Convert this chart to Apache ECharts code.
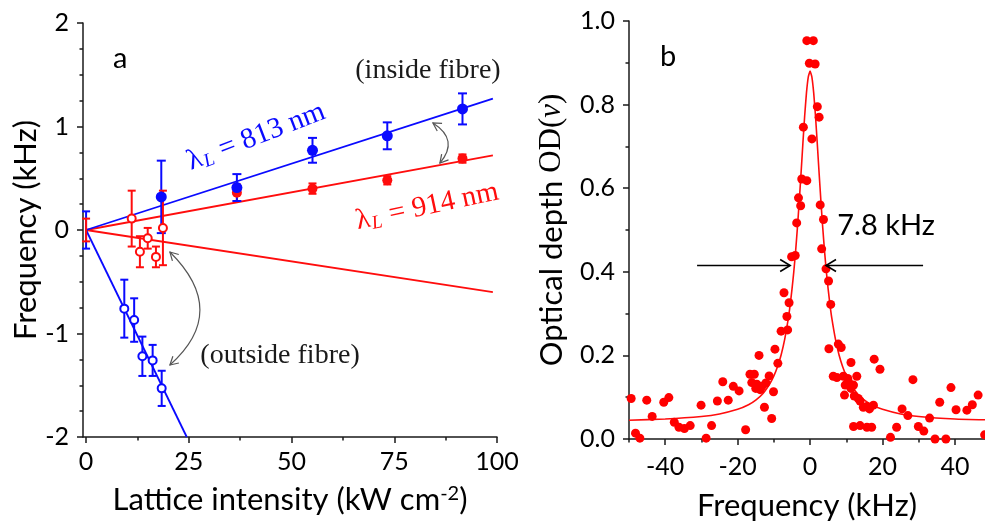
<!DOCTYPE html>
<html>
<head>
<meta charset="utf-8">
<script src="https://cdn.jsdelivr.net/npm/echarts@6/dist/echarts.min.js"></script>
<style>
html,body{margin:0;padding:0;background:#fff;}
#c{width:985px;height:526px;}
</style>
</head>
<body>
<div id="c"></div>
<script>
// ---------- Panel a data ----------
const in813X = [18.3, 36.7, 55.1, 73.3, 91.6];
const in813Y = [0.32, 0.41, 0.77, 0.91, 1.17];
const in813Err = [0.35, 0.13, 0.12, 0.13, 0.15];

const in914X = [36.7, 55.1, 73.3, 91.6];
const in914Y = [0.36, 0.40, 0.48, 0.69];
const in914Err = [0.08, 0.05, 0.04, 0.04];

const out813X = [9.3, 11.7, 13.7, 16.2, 18.4];
const out813Y = [-0.76, -0.87, -1.22, -1.26, -1.53];
const out813Err = [0.28, 0.21, 0.19, 0.15, 0.17];

const out914X = [11.1, 13.1, 15.0, 17.0, 18.7];
const out914Y = [0.11, -0.21, -0.08, -0.26, 0.02];
const out914Err = [0.27, 0.15, 0.10, 0.10, 0.36];

const originX = [0];
const originY = [0];
const origin813Err = [0.18];
const origin914Err = [0.11];

const fitInX = [0, 99];
const fitIn813Y = [0, 1.27];
const fitIn914Y = [0, 0.72];
const fitOut914X = [0, 99];
const fitOut914Y = [0, -0.60];
const fitOut813X = [0, 24.5];
const fitOut813Y = [0, -2.0];

const xTicksA = [0, 25, 50, 75, 100];
const xMinorA = [12.5, 37.5, 62.5, 87.5];

// ---------- Panel b data ----------
const scanX = [
  -49.4,-48.2,-47.0,-45.1,-43.6,-40.4,-39.0,-37.5,-36.2,-34.7,-33.1,-30.1,-28.7,-27.2,-25.6,-24.1,-22.6,-21.2,-19.6,-17.8,
  -16.6,-15.4,-16.1,-14.7,-13.3,-12.2,-15.0,-13.8,-14.1,-11.3,-10.1,-12.6,-10.6,
  -9.7,-8.9,-8.0,-6.2,-6.4,-5.8,-7.2,-5.1,-4.1,
  -3.7,-3.2,-2.6,-2.3,-0.9,-1.85,-0.9,0.9,-0.2,1.4,0.5,2.0,2.5,2.8,3.7,3.2,
  4.4,5.1,5.7,5.2,7.8,8.6,11.3,6.4,7.4,9.2,10.4,12.9,9.7,10.6,11.3,12.0,9.5,12.2,13.3,13.8,14.7,12.0,13.8,15.7,16.4,17.5,15.7,17.0,17.7,19.3,
  22.2,23.9,25.4,27.0,28.4,29.9,31.4,33.0,34.5,35.8,37.5,38.9,40.3,43.3,44.8,46.4,48.2
];
const scanY = [
  0.097,0.014,0.002,0.093,0.054,0.088,0.099,0.040,0.028,0.025,0.032,0.081,0.002,0.032,0.091,0.137,0.093,0.126,0.115,0.022,
  0.155,0.155,0.135,0.131,0.126,0.134,0.121,0.118,0.200,0.151,0.113,0.076,0.049,
  0.215,0.181,0.258,0.261,0.293,0.326,0.350,0.436,0.439,
  0.517,0.577,0.558,0.622,0.618,0.746,0.953,0.953,0.899,0.897,0.718,0.795,0.770,0.560,0.525,0.455,
  0.407,0.378,0.322,0.216,0.227,0.219,0.183,0.150,0.147,0.150,0.145,0.150,0.129,0.137,0.121,0.129,0.105,0.103,0.097,0.091,0.076,0.030,0.032,0.078,0.072,0.081,0.028,0.028,0.191,0.167,
  0.004,0.028,0.072,0.056,0.142,0.030,0.019,0.050,0.000,0.088,0.000,0.123,0.070,0.069,0.082,0.105,0.010
];
const fitFreq = [-50,-40,-30,-25,-20,-17,-15,-13,-11,-10,-9,-8,-7,-6,-5.5,-5,-4.5,-4,-3.5,-3,-2.5,-2,-1.5,-1,-0.5,0,
  0.5,1,1.5,2,2.5,3,3.5,4,4.5,5,5.5,6,7,8,9,10,11,13,15,17,20,25,30,40,48.3];
const fitOD = [0.045,0.048,0.054,0.060,0.071,0.082,0.093,0.109,0.134,0.151,0.173,0.201,0.239,0.289,0.321,0.358,0.400,0.449,0.505,0.568,0.635,0.705,0.772,0.828,0.866,0.880,
  0.866,0.828,0.772,0.705,0.635,0.568,0.505,0.449,0.400,0.358,0.321,0.289,0.239,0.201,0.173,0.151,0.134,0.109,0.093,0.082,0.071,0.060,0.054,0.048,0.046];
const xTicksB = [-40, -20, 0, 20, 40];
const xMinorB = [-50, -30, -10, 10, 30];

// ---------- styles ----------
const BLUE = '#0a0aff';
const RED = '#ff0d0d';
const AX = '#1a1a1a';
const SANS = 'Lato';
const SERIF = 'Liberation Serif';

const zip = (xs, ys) => xs.map((x, i) => [x, ys[i]]);
const zip3 = (xs, ys, es) => xs.map((x, i) => [x, ys[i], es[i]]);

function errSeries(xs, ys, es, color, cap, xi, yi) {
  return {
    type: 'custom', xAxisIndex: xi, yAxisIndex: yi, z: 3,
    data: zip3(xs, ys, es),
    encode: {x: 0, y: 1},
    renderItem: function (params, api) {
      const x = api.value(0), y = api.value(1), e = api.value(2);
      const t = api.coord([x, y + e]);
      const b = api.coord([x, y - e]);
      const h = cap / 2;
      const st = {stroke: color, lineWidth: 2};
      return {type: 'group', children: [
        {type: 'line', shape: {x1: t[0], y1: t[1], x2: b[0], y2: b[1]}, style: st},
        {type: 'line', shape: {x1: t[0] - h, y1: t[1], x2: t[0] + h, y2: t[1]}, style: st},
        {type: 'line', shape: {x1: b[0] - h, y1: b[1], x2: b[0] + h, y2: b[1]}, style: st}
      ]};
    }
  };
}
function fitLine(xs, ys, color, xi, yi) {
  return {type: 'line', xAxisIndex: xi, yAxisIndex: yi, data: zip(xs, ys), showSymbol: false,
    lineStyle: {color: color, width: 1.8}, itemStyle: {color: color}, z: 2, silent: true};
}

const axisLine = {show: true, onZero: false, lineStyle: {color: AX, width: 1.5}};
const noLine = {show: false, onZero: false};
const tickStyle = {color: AX, width: 1.5};
const labelStyle = {fontFamily: SANS, fontSize: 25, color: '#000'};
const titleStyle = {fontFamily: SANS, fontSize: 31, color: '#000'};

const option = {
  animation: false,
  backgroundColor: '#fff',
  grid: [
    {left: 83, top: 23, width: 414, height: 414},
    {left: 629, top: 21, width: 356, height: 419}
  ],
  xAxis: [
    {gridIndex: 0, type: 'value', position: 'bottom', min: -0.75, max: 100,
     axisLine: axisLine,
     axisTick: {show: true, customValues: xTicksA, length: 6, lineStyle: tickStyle},
     axisLabel: Object.assign({customValues: xTicksA, margin: 12}, labelStyle),
     splitLine: {show: false},
     name: 'Lattice intensity (kW cm{sup|-2})', nameLocation: 'middle', nameGap: 47,
     nameTextStyle: Object.assign({
       rich: {sup: {fontFamily: SANS, fontSize: 20, color: '#000', verticalAlign: 'top'}}}, titleStyle)},
    {gridIndex: 0, type: 'value', position: 'bottom', min: -0.75, max: 100,
     axisLine: noLine,
     axisTick: {show: true, customValues: xMinorA, length: 3.5, lineStyle: tickStyle},
     axisLabel: {show: false}, splitLine: {show: false}},
    {gridIndex: 1, type: 'value', position: 'bottom', min: -50, max: 48.3,
     axisLine: axisLine,
     axisTick: {show: true, customValues: xTicksB, length: 6, lineStyle: tickStyle},
     axisLabel: Object.assign({customValues: xTicksB, margin: 15}, labelStyle),
     splitLine: {show: false},
     name: 'Frequency (kHz)', nameLocation: 'middle', nameGap: 51,
     nameTextStyle: titleStyle},
    {gridIndex: 1, type: 'value', position: 'bottom', min: -50, max: 48.3,
     axisLine: noLine,
     axisTick: {show: true, customValues: xMinorB, length: 3.5, lineStyle: tickStyle},
     axisLabel: {show: false}, splitLine: {show: false}}
  ],
  yAxis: [
    {gridIndex: 0, type: 'value', min: -2, max: 2, interval: 1,
     axisLine: axisLine,
     axisTick: {show: true, length: 6, lineStyle: tickStyle},
     minorTick: {show: true, splitNumber: 4, length: 3.5, lineStyle: tickStyle},
     axisLabel: Object.assign({margin: 14}, labelStyle),
     splitLine: {show: false}, minorSplitLine: {show: false},
     name: 'Frequency (kHz)', nameLocation: 'middle', nameGap: 42,
     nameTextStyle: titleStyle},
    {gridIndex: 1, type: 'value', min: 0, max: 1, interval: 0.2,
     axisLine: axisLine,
     axisTick: {show: true, length: 6, lineStyle: tickStyle},
     minorTick: {show: true, splitNumber: 2, length: 3.5, lineStyle: tickStyle},
     axisLabel: Object.assign({margin: 14, formatter: v => v.toFixed(1)}, labelStyle),
     splitLine: {show: false}, minorSplitLine: {show: false},
     name: '{a|Optical depth }{b|OD(}{c|ν}{b|)}', nameLocation: 'middle', nameGap: 62,
     nameTextStyle: {color: '#000', rich: {
       a: {fontFamily: SANS, fontSize: 31, color: '#000'},
       b: {fontFamily: SERIF, fontSize: 31, color: '#000'},
       c: {fontFamily: SERIF, fontSize: 31, fontStyle: 'italic', color: '#000'}}}}
  ],
  series: [
    fitLine(fitInX, fitIn914Y, RED, 0, 0),
    fitLine(fitOut914X, fitOut914Y, RED, 0, 0),
    fitLine(fitInX, fitIn813Y, BLUE, 0, 0),
    fitLine(fitOut813X, fitOut813Y, BLUE, 0, 0),
    errSeries(originX, originY, origin813Err, BLUE, 8, 0, 0),
    errSeries(originX, originY, origin914Err, RED, 8, 0, 0),
    errSeries(in914X, in914Y, in914Err, RED, 8, 0, 0),
    errSeries(in813X, in813Y, in813Err, BLUE, 9, 0, 0),
    errSeries(out914X, out914Y, out914Err, RED, 8, 0, 0),
    errSeries(out813X, out813Y, out813Err, BLUE, 8, 0, 0),
    {type: 'scatter', xAxisIndex: 0, yAxisIndex: 0, data: zip(in914X, in914Y), symbolSize: 10,
     itemStyle: {color: RED, opacity: 1}, z: 4},
    {type: 'scatter', xAxisIndex: 0, yAxisIndex: 0, data: zip(in813X, in813Y), symbolSize: 11,
     itemStyle: {color: BLUE, opacity: 1}, z: 5},
    {type: 'scatter', xAxisIndex: 0, yAxisIndex: 0, data: zip(out914X, out914Y), symbolSize: 8,
     itemStyle: {color: '#fff', borderColor: RED, borderWidth: 2, opacity: 1}, z: 4},
    {type: 'scatter', xAxisIndex: 0, yAxisIndex: 0, data: zip(out813X, out813Y), symbolSize: 8,
     itemStyle: {color: '#fff', borderColor: BLUE, borderWidth: 2, opacity: 1}, z: 4},
    {type: 'line', xAxisIndex: 2, yAxisIndex: 1, data: zip(fitFreq, fitOD), showSymbol: false, smooth: 0.15,
     lineStyle: {color: RED, width: 1.6}, itemStyle: {color: RED}, z: 2},
    {type: 'scatter', xAxisIndex: 2, yAxisIndex: 1, data: zip(scanX, scanY), symbolSize: 9,
     itemStyle: {color: '#ff0000', opacity: 1}, z: 4}
  ]
};

const chart = echarts.init(document.getElementById('c'), null, {renderer: 'canvas'});
chart.setOption(option);

// ---------- annotations (anchored in data coordinates) ----------
function P(g, x, y) {
  return chart.convertToPixel(g === 0 ? {xAxisIndex: 0, yAxisIndex: 0} : {xAxisIndex: 2, yAxisIndex: 1}, [x, y]);
}
function head(tip, from, L, W) {
  const dx = tip[0] - from[0], dy = tip[1] - from[1];
  const n = Math.hypot(dx, dy) || 1;
  const ux = dx / n, uy = dy / n, px = -uy, py = ux;
  return [[tip[0] - ux * L + px * W, tip[1] - uy * L + py * W], tip,
          [tip[0] - ux * L - px * W, tip[1] - uy * L - py * W]];
}
function curvedArrow(g, a, c, b, color) {
  const A = P(g, a[0], a[1]), C = P(g, c[0], c[1]), B = P(g, b[0], b[1]);
  const st = {stroke: color, lineWidth: 1.2, fill: null};
  return [
    {type: 'bezierCurve', shape: {x1: A[0], y1: A[1], x2: B[0], y2: B[1], cpx1: C[0], cpy1: C[1]}, style: st, z: 10},
    {type: 'polyline', shape: {points: head(A, C, 8, 4.5)}, style: st, z: 10},
    {type: 'polyline', shape: {points: head(B, C, 8, 4.5)}, style: st, z: 10}
  ];
}
function straightArrow(g, from, to, color) {
  const F = P(g, from[0], from[1]), T = P(g, to[0], to[1]);
  const st = {stroke: color, lineWidth: 1.6, fill: null};
  return [
    {type: 'line', shape: {x1: F[0], y1: F[1], x2: T[0], y2: T[1]}, style: st, z: 10},
    {type: 'polyline', shape: {points: head(T, F, 10, 6)}, style: st, z: 10}
  ];
}
function txt(g, x, y, text, font, color, align, rot, rich) {
  const p = P(g, x, y);
  const el = {type: 'text', x: p[0], y: p[1], rotation: (rot || 0) * Math.PI / 180, z: 10,
    style: {text: text, font: font, fill: color, align: align || 'center', verticalAlign: 'middle'}};
  if (rich) el.style.rich = rich;
  return el;
}
function lamRich(color) {
  return {
    l: {fontFamily: SERIF, fontSize: 29, fill: color, color: color, lineHeight: 30},
    s: {fontFamily: SERIF, fontSize: 19, fontStyle: 'italic', fill: color, color: color,
        verticalAlign: 'bottom', lineHeight: 14, padding: [0, 1, 0, 1]},
    t: {fontFamily: SERIF, fontSize: 29, fill: color, color: color, lineHeight: 30}
  };
}

const els = [].concat(
  [txt(0, 8.3, 1.66, 'a', '29px Lato', '#000')],
  [txt(0, 83.2, 1.536, '(inside fibre)', '28px "Liberation Serif"', '#1a1a1a')],
  [txt(0, 47.2, -1.217, '(outside fibre)', '28px "Liberation Serif"', '#1a1a1a')],
  [txt(0, 41.4, 0.90, '{l|λ}{s|L}{t| = 813 nm}', '29px "Liberation Serif"', BLUE, 'center', 21, lamRich(BLUE))],
  [txt(0, 83.0, 0.225, '{l|λ}{s|L}{t| = 914 nm}', '29px "Liberation Serif"', RED, 'center', 12, lamRich(RED))],
  curvedArrow(0, [84.4, 1.034], [90.9, 0.87], [86.1, 0.647], '#555'),
  curvedArrow(0, [20.4, -0.213], [35.0, -0.787], [20.4, -1.304], '#555'),
  [txt(1, -39.2, 0.914, 'b', '29px Lato', '#000')],
  [txt(1, 7.5, 0.511, '7.8 kHz', '29px Lato', '#000', 'left')],
  straightArrow(1, [-31.2, 0.415], [-5.5, 0.415], '#000'),
  straightArrow(1, [31.2, 0.415], [4.4, 0.415], '#000')
);
chart.setOption({graphic: {elements: els}});
</script>
</body>
</html>
